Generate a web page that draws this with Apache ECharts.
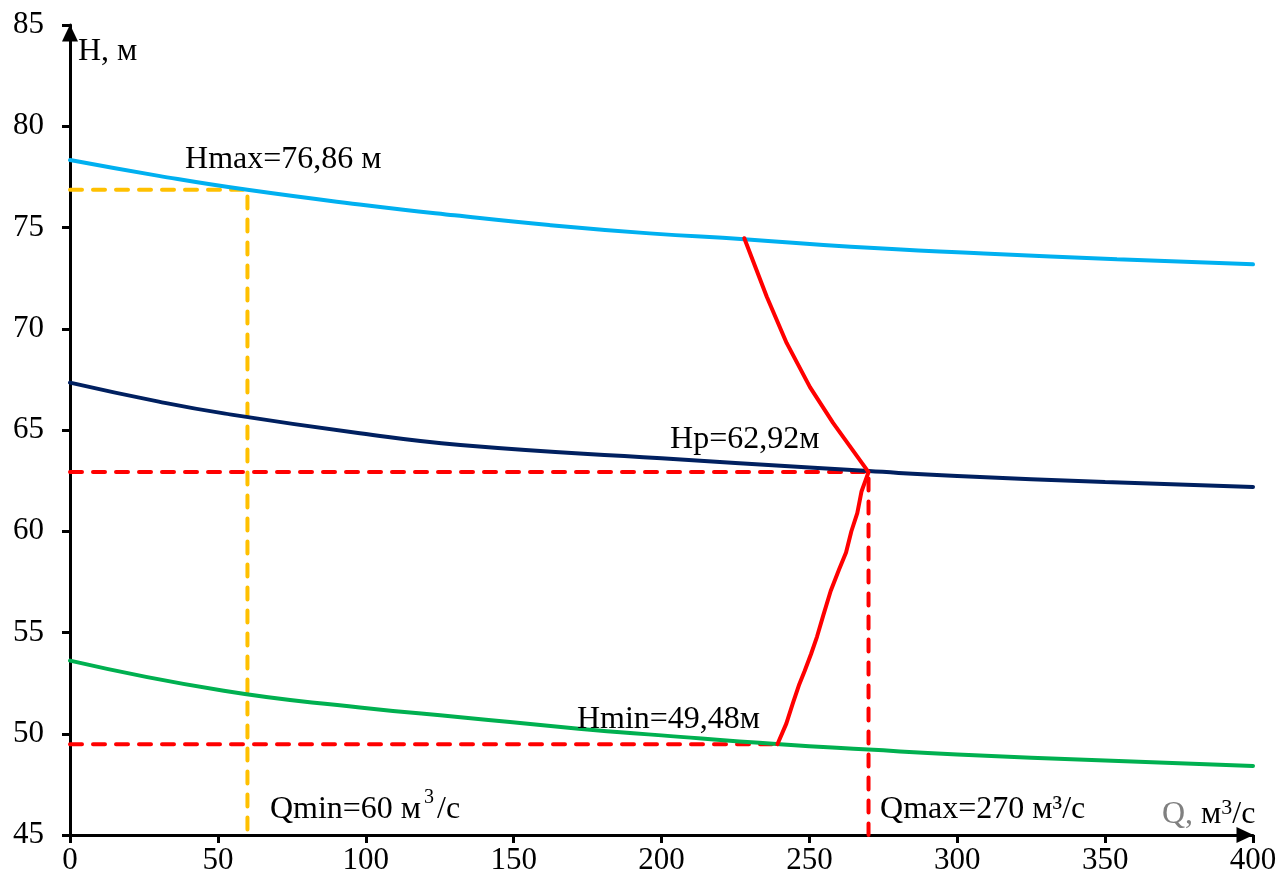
<!DOCTYPE html>
<html><head><meta charset="utf-8">
<script src="https://cdn.jsdelivr.net/npm/echarts@6/dist/echarts.min.js"></script>
<style>html,body{margin:0;padding:0;background:#fff}#c{width:1280px;height:885px}</style>
</head><body><div id="c"></div>
<script>
// Data
const hmaxCurve = [[0,78.33],[30,77.55],[60,76.86],[100,76.1],[130,75.6],[162,75.12],[196,74.71],[228,74.42],[264,74.05],[309,73.72],[354,73.43],[400,73.18]];
const hpCurve = [[0,67.34],[30,66.4],[52,65.82],[98,64.84],[132,64.26],[200,63.6],[250,63.15],[270,62.97],[300,62.73],[350,62.43],[400,62.19]];
const hminCurve = [[0,53.61],[52,52.12],[98,51.3],[132,50.82],[172,50.25],[200,49.92],[240,49.48],[270,49.22],[300,48.98],[350,48.68],[400,48.41]];
const workLine = [[228,74.47],[235.6,71.58],[242.3,69.3],[250.2,67.12],[258,65.35],[270,62.92],[267.6,61.95],[266.2,60.9],[264.2,60.0],[262.4,58.95],[260,58.1],[257.2,57.05],[254.6,55.8],[252.6,54.8],[250.6,53.95],[248.4,53.1],[246.6,52.45],[244.4,51.5],[242.2,50.5],[239.2,49.48]];
const qMin = 60, qMax = 270, hMax = 76.86, hP = 62.92, hMin = 49.48;
const xTicks = {min:0, max:400, interval:50};
const yTicks = {min:45, max:85, interval:5};
const annotations = [
  [38.9, 78.33, 'Hmax=76,86 м'],
  [202.9, 64.51, 'Hp=62,92м'],
  [171.4, 50.68, 'Hmin=49,48м'],
  [67.6, 46.23, '{t|Qmin=60 м}{s|3}{t|/с}'],
  [273.9, 46.23, 'Qmax=270 м³/с'],
  [2.7, 83.67, 'H, м'],
  [369.2, 45.99, '{g|Q, }{t|м}{s2|3}{t|/с}']
];

const FONT = 'Liberation Serif';
const FS = 32;
const chart = echarts.init(document.getElementById('c'), null, {renderer:'canvas'});
function line(data, color, dashed, z){
  return {type:'line', data, showSymbol:false, smooth:false, z:z||2, animation:false,
    emphasis:{disabled:true},
    lineStyle:{color, width: 4, type: dashed ? [12,11] : 'solid', cap:'round', join:'round'}};
}
function curve(data, color){
  const s = line(data, color, false, 3);
  s.smooth = 0.5;
  return s;
}
const labelBase = {show:true, position:'right', distance:0, color:'#000', fontFamily:FONT, fontSize:FS, textBorderWidth:0,
  rich:{
    t:{fontFamily:FONT, fontSize:FS, color:'#000'},
    g:{fontFamily:FONT, fontSize:FS, color:'#808080'},
    s:{fontFamily:FONT, fontSize:20, color:'#000', padding:[0,3,24,3]},
    s2:{fontFamily:FONT, fontSize:22, color:'#000', padding:[0,0,14,0]}
  }};
const series = [
  line([[0,hMax],[qMin,hMax],[qMin,45]], '#FFC000', true, 1),
  line([[0,hP],[qMax,hP],[qMax,45]], '#FF0000', true, 1),
  line([[0,hMin],[239.2,hMin]], '#FF0000', true, 1),
  curve(hmaxCurve, '#00B0F0'),
  curve(hpCurve, '#002060'),
  curve(hminCurve, '#00B050'),
  line(workLine, '#FF0000', false, 4),
  {type:'scatter', symbolSize:0, animation:false, z:10, silent:true, itemStyle:{color:'#000', opacity:1},
   data: annotations.map(a => ({value:[a[0],a[1]], label:Object.assign({}, labelBase, {formatter:a[2]})})),
   label:labelBase}
];
chart.setOption({
  animation:false,
  backgroundColor:'#fff',
  grid:{left:70, right:27, top:25, bottom:50, containLabel:false},
  xAxis:{type:'value', min:xTicks.min, max:xTicks.max, interval:xTicks.interval,
    splitLine:{show:false},
    axisLine:{show:true, onZero:false, lineStyle:{color:'#000', width:3}, symbol:['none','triangle'], symbolSize:[16,17], symbolOffset:[0,-8]},
    axisTick:{show:true, length:8, lineStyle:{color:'#000', width:3}},
    axisLabel:{color:'#000', fontFamily:FONT, fontSize:31, margin:10}},
  yAxis:{type:'value', min:yTicks.min, max:yTicks.max, interval:yTicks.interval,
    splitLine:{show:false},
    axisLine:{show:true, onZero:false, lineStyle:{color:'#000', width:3}, symbol:['none','triangle'], symbolSize:[16,17], symbolOffset:[0,-8]},
    axisTick:{show:true, length:8, lineStyle:{color:'#000', width:3}},
    axisLabel:{color:'#000', fontFamily:FONT, fontSize:31, margin:26}},
  series
});
</script></body></html>
